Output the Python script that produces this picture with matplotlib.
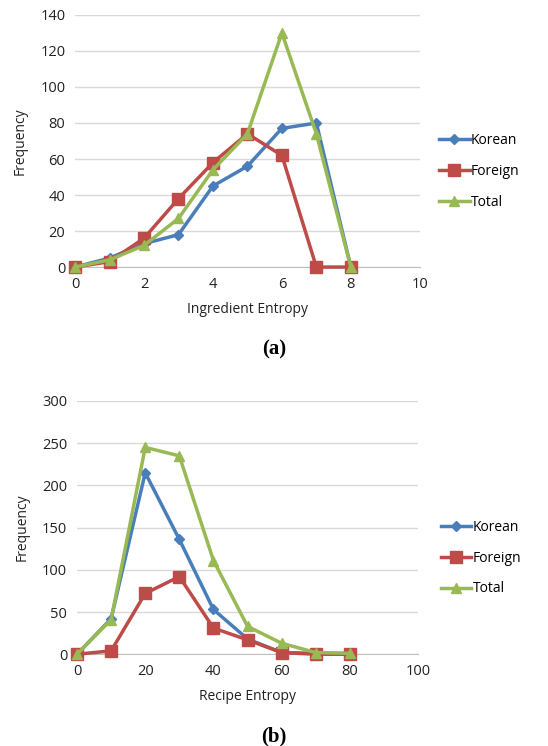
import matplotlib.pyplot as plt

# data
ing_x = [0, 1, 2, 3, 4, 5, 6, 7, 8]
ing_korean = [0, 5, 13, 18, 45, 56, 77, 80, 0]
ing_foreign = [0, 3, 16, 38, 58, 74, 62, 0, 0]
ing_total = [0, 4, 12, 27, 54, 74, 130, 74, 0]

rec_x = [0, 10, 20, 30, 40, 50, 60, 70, 80]
rec_korean = [0, 42, 215, 136, 53, 18, 2, 1, 1]
rec_foreign = [0, 4, 72, 92, 31, 17, 2, 0, 0]
rec_total = [0, 41, 245, 235, 111, 33, 13, 2, 1]

series_names = ['Korean', 'Foreign', 'Total']
colors = ['#4a7ebb', '#be4b48', '#98b954']
markers = ['D', 's', '^']
msizes = [5, 8, 7]

plt.rcParams['font.family'] = ['Open Sans', 'DejaVu Sans']

fig = plt.figure(figsize=(5.48, 7.46), dpi=100)
ax_a = fig.add_axes([0.137, 0.642, 0.629, 0.338])
ax_b = fig.add_axes([0.1405, 0.123, 0.6225, 0.3395])


def style(ax, xs, series, xlim, ylim, xticks, yticks, xlabel, leg_x):
    for ys, name, c, m, ms in zip(series, series_names, colors, markers, msizes):
        ax.plot(xs, ys, color=c, marker=m, markersize=ms, linewidth=2.5,
                label=name, clip_on=False, zorder=3)
    ax.set_xlim(*xlim)
    ax.set_ylim(*ylim)
    ax.set_xticks(xticks)
    ax.set_yticks(yticks)
    ax.grid(axis='y', color='#d9d9d9', linewidth=1)
    ax.set_axisbelow(True)
    for s in ['top', 'right', 'left']:
        ax.spines[s].set_visible(False)
    ax.spines['bottom'].set_color('#bfbfbf')
    ax.tick_params(length=0, labelsize=10.5, colors='#222222', pad=7)
    ax.set_xlabel(xlabel, fontsize=10, color='#222222', labelpad=7)
    ax.set_ylabel('Frequency', fontsize=10, color='#222222', labelpad=9)
    ax.legend(loc='center left', bbox_to_anchor=(leg_x, 0.38), frameon=False,
              fontsize=10, handlelength=2.2, handletextpad=0.1, labelspacing=1.15)


style(ax_a, ing_x, [ing_korean, ing_foreign, ing_total], (0, 10), (0, 140),
      range(0, 11, 2), range(0, 141, 20), 'Ingredient Entropy', 1.02)
style(ax_b, rec_x, [rec_korean, rec_foreign, rec_total], (0, 100), (0, 300),
      range(0, 101, 20), range(0, 301, 50), 'Recipe Entropy', 1.03)

fig.text(0.5, 1 - 349 / 746, '(a)', ha='center', va='center', fontsize=15,
         fontweight='bold', family='Liberation Serif')
fig.text(0.5, 1 - 736 / 746, '(b)', ha='center', va='center', fontsize=15,
         fontweight='bold', family='Liberation Serif')

fig.savefig('out.png', dpi=100)
